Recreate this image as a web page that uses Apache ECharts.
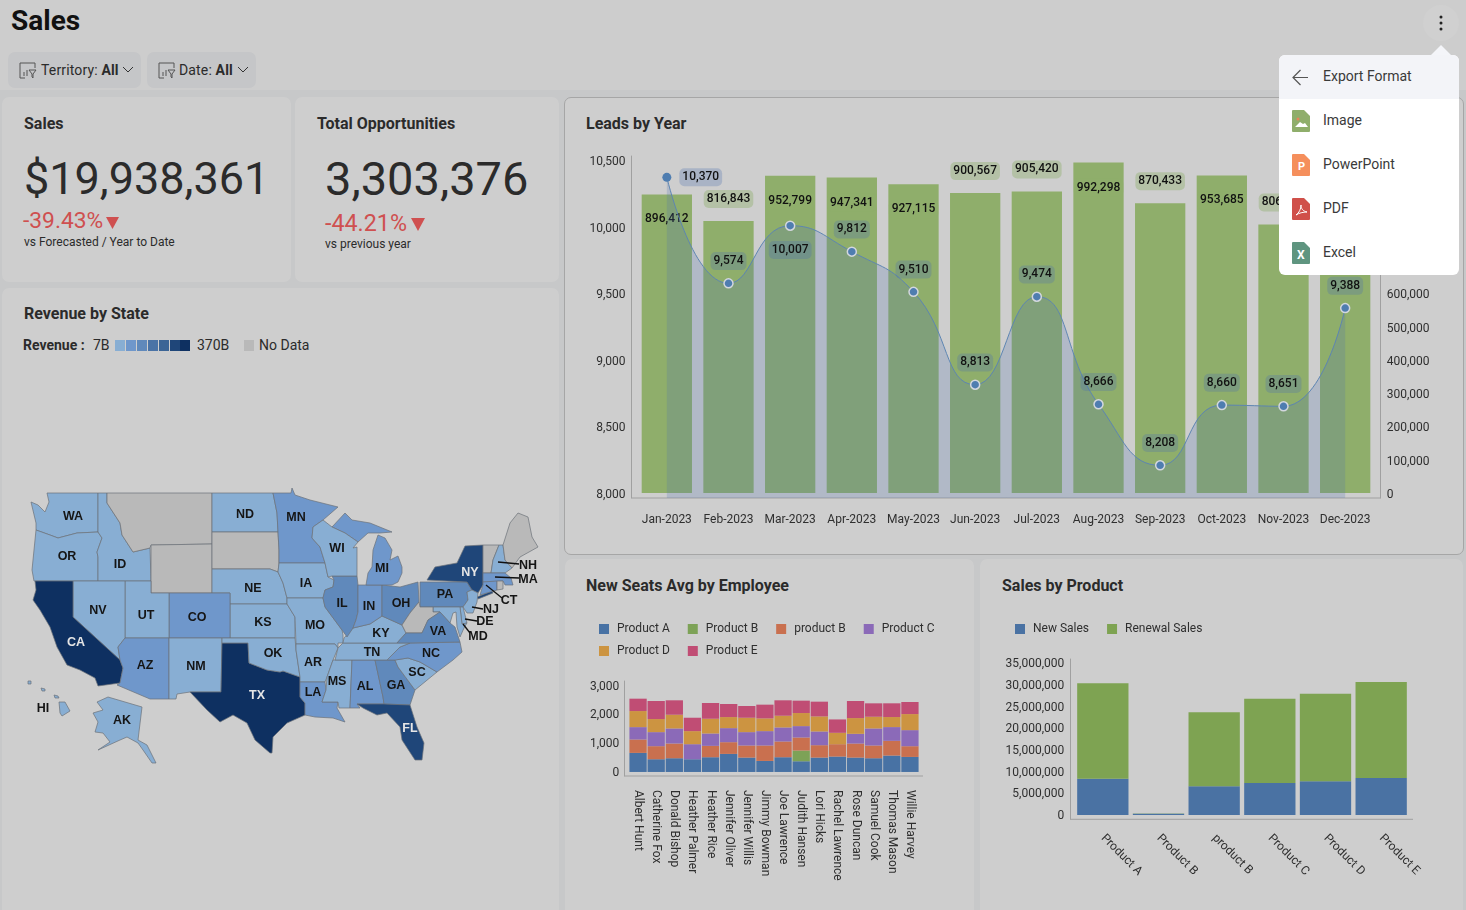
<!DOCTYPE html>
<html>
<head>
<meta charset="utf-8">
<title>Sales</title>
<script src="https://cdn.jsdelivr.net/npm/echarts@6/dist/echarts.min.js"></script>
<style>
	html, body { margin: 0; padding: 0; width: 1466px; height: 910px; overflow: hidden; background: #cdcdcd; font-family: Roboto, sans-serif; color: #2b2b2b; }
	.abs { position: absolute; white-space: nowrap; }
	.gutter { position: absolute; left: 0; top: 90px; width: 1466px; height: 820px; background: #c7c8c9; }
	.card { position: absolute; background: #cecece; border-radius: 7px; }
	.title { font-size: 16px; font-weight: 700; color: #2b2b2b; }
	.filter { position: absolute; top: 52px; height: 36px; background: #c5c6c8; border-radius: 7px; font-size: 14px; line-height: 36px; letter-spacing: 0.15px; }
	.red { color: #cf5050; }
	.menu { position: absolute; left: 1279px; top: 55px; width: 180px; height: 220px; background: #fff; border-radius: 6px; font-size: 14px; color: #3a3a3a; }
	.menu .row { position: absolute; left: 44px; line-height: 20px; }
	.swatch { position: absolute; top: 340px; height: 11px; }
</style>
</head>
<body>
<div class="gutter"></div>
<div class="card" style="left:2px;top:97px;width:289px;height:185px"></div>
<div class="card" style="left:295px;top:97px;width:264px;height:185px"></div>
<div class="card" style="left:2px;top:288px;width:557px;height:630px"></div>
<div class="card" style="left:564px;top:97px;width:898px;height:456px;border:1px solid #a6a6a6"></div>
<div class="card" style="left:565px;top:559px;width:409px;height:360px"></div>
<div class="card" style="left:980px;top:559px;width:483px;height:360px"></div>

<div class="abs" style="left:11px;top:4px;font-size:28px;font-weight:700;color:#111">Sales</div>

<div class="filter" style="left:8px;width:133px">
	<svg class="abs" style="left:11px;top:10px" width="18" height="17" fill="none" stroke="#555"><path d="M6 16H1V1h15v5M5 14V10M8 14V8M10 8h7l-3 4v4l-1-1v-3z"/></svg>
	<span class="abs" style="left:33px">Territory: <b style="font-weight:700">All</b></span>
	<svg class="abs" style="left:114px;top:14px" width="12" height="8" fill="none" stroke="#333"><path d="M1 1l5 5 5-5"/></svg>
</div>
<div class="filter" style="left:147px;width:109px">
	<svg class="abs" style="left:11px;top:10px" width="18" height="17" fill="none" stroke="#555"><path d="M6 16H1V1h15v5M5 14V10M8 14V8M10 8h7l-3 4v4l-1-1v-3z"/></svg>
	<span class="abs" style="left:32px">Date: <b style="font-weight:700">All</b></span>
	<svg class="abs" style="left:90px;top:14px" width="12" height="8" fill="none" stroke="#333"><path d="M1 1l5 5 5-5"/></svg>
</div>

<div class="abs title" style="left:24px;top:114px">Sales</div>
<div class="abs" style="left:24px;top:152px;font-size:45px">$19,938,361</div>
<div class="abs red" style="left:23px;top:207px;font-size:22.800px">-39.43%</div>
<svg class="abs" style="left:106px;top:217px" width="14" height="12"><path d="M0 0h13l-6.500 12z" fill="#cf5050"/></svg>
<div class="abs" style="left:24px;top:235px;font-size:12px">vs Forecasted / Year to Date</div>

<div class="abs title" style="left:317px;top:114px">Total Opportunities</div>
<div class="abs" style="left:325px;top:151px;font-size:47px">3,303,376</div>
<div class="abs red" style="left:325px;top:209px;font-size:23.300px">-44.21%</div>
<svg class="abs" style="left:411px;top:218px" width="14" height="13"><path d="M0 0h14l-7 13z" fill="#cf5050"/></svg>
<div class="abs" style="left:325px;top:237px;font-size:12px">vs previous year</div>

<div class="abs title" style="left:24px;top:304px">Revenue by State</div>
<div class="abs" style="left:23px;top:337px;font-size:14px;font-weight:700">Revenue :</div>
<div class="abs" style="left:93px;top:337px;font-size:14px">7B</div>
<div id="mapLegend"></div>
<div class="abs" style="left:197px;top:337px;font-size:14px">370B</div>
<div class="swatch" style="left:244px;width:10px;background:#b9b9b9"></div>
<div class="abs" style="left:259px;top:337px;font-size:14px">No Data</div>

<div class="abs title" style="left:586px;top:114px">Leads by Year</div>
<div class="abs title" style="left:586px;top:576px">New Seats Avg by Employee</div>
<div class="abs title" style="left:1002px;top:576px">Sales by Product</div>

<div id="mapChart" class="abs" style="left:2px;top:288px;width:557px;height:622px"></div>
<div id="leadsChart" class="abs" style="left:565px;top:97px;width:898px;height:457px"></div>
<div id="seatsChart" class="abs" style="left:565px;top:559px;width:409px;height:351px"></div>
<div id="productChart" class="abs" style="left:980px;top:559px;width:483px;height:351px"></div>

<div class="abs" style="left:1423px;top:5px;width:36px;height:36px;border-radius:18px;background:#d0d0d0"></div>
<svg class="abs" style="left:1438px;top:15px" width="6" height="16"><circle cx="3" cy="2" r="1.5" fill="#222"/><circle cx="3" cy="8" r="1.5" fill="#222"/><circle cx="3" cy="14" r="1.5" fill="#222"/></svg>
<svg class="abs" style="left:1431px;top:45px" width="20" height="11"><path d="M0 10L10 0l10 10z" fill="#f4f5f9"/></svg>
<div class="menu">
	<div class="abs" style="left:0;top:0;width:180px;height:44px;background:#f3f4f8;border-radius:6px 6px 0 0"></div>
	<svg class="abs" style="left:13px;top:14px" width="17" height="17" fill="none" stroke="#555" stroke-width="1.2"><path d="M16 8.500H1M8.500 1L1 8.500 8.500 16"/></svg>
	<div class="row" style="top:11px">Export Format</div>
	<svg class="abs" style="left:13px;top:55px" width="18" height="22"><path d="M0 1q0-1 1-1h11l6 6v15q0 1-1 1H1q-1 0-1-1z" fill="#8fae6b"/><path d="M3 17l5-5 3 2 2-1 3 4z" fill="#fff"/><circle cx="6" cy="9" r="1.500" fill="#e8845a"/></svg>
	<div class="row" style="top:55px">Image</div>
	<svg class="abs" style="left:13px;top:99px" width="18" height="22"><path d="M0 1q0-1 1-1h11l6 6v15q0 1-1 1H1q-1 0-1-1z" fill="#f58f5c"/><text x="6" y="16" font-size="11" font-weight="700" fill="#fff">P</text></svg>
	<div class="row" style="top:99px">PowerPoint</div>
	<svg class="abs" style="left:13px;top:143px" width="18" height="22"><path d="M0 1q0-1 1-1h11l6 6v15q0 1-1 1H1q-1 0-1-1z" fill="#d0504a"/><path d="M4 17c3-2 5-6 5-10 0 4 2 6 6 7-4 0-8 1-11 3z" fill="none" stroke="#fff"/></svg>
	<div class="row" style="top:143px">PDF</div>
	<svg class="abs" style="left:13px;top:187px" width="18" height="22"><path d="M0 1q0-1 1-1h11l6 6v15q0 1-1 1H1q-1 0-1-1z" fill="#5f9580"/><text x="5" y="17" font-size="12" font-weight="700" fill="#fff">X</text></svg>
	<div class="row" style="top:187px">Excel</div>
</div>

<script>
const FONT = 'Roboto, sans-serif'
const TEXT_COLOR = '#2f2f2f'
const AXIS_COLOR = '#a0a0a0'

// Leads by Year
const leadMonths = ['Jan-2023', 'Feb-2023', 'Mar-2023', 'Apr-2023', 'May-2023', 'Jun-2023', 'Jul-2023', 'Aug-2023', 'Sep-2023', 'Oct-2023', 'Nov-2023', 'Dec-2023']
const leadCounts = [896412, 816843, 952799, 947341, 927115, 900567, 905420, 992298, 870433, 953685, 806300, 832000]
const leadValues = [10370, 9574, 10007, 9812, 9510, 8813, 9474, 8666, 8208, 8660, 8651, 9388]
const leftTicks = [8000, 8500, 9000, 9500, 10000, 10500]
const rightTicks = [0, 100000, 200000, 300000, 400000, 500000, 600000, 700000, 800000, 900000, 1000000]
// months whose bar label sits inside the bar
const insideBarMonths = ['Jan-2023', 'Mar-2023', 'Apr-2023', 'May-2023', 'Aug-2023', 'Oct-2023']

// New Seats Avg by Employee
const employees = ['Albert Hunt', 'Catherine Fox', 'Donald Bishop', 'Heather Palmer', 'Heather Rice', 'Jennifer Oliver', 'Jennifer Willis', 'Jimmy Bowman', 'Joe Lawrence', 'Judith Hansen', 'Lori Hicks', 'Rachel Lawrence', 'Rose Duncan', 'Samuel Cook', 'Thomas Mason', 'Willie Harvey']
const seatsProductA = [663, 442, 477, 442, 512, 628, 500, 384, 512, 372, 500, 535, 500, 477, 570, 523]
const seatsProductB = [0, 0, 0, 0, 0, 0, 0, 0, 0, 372, 0, 0, 0, 0, 0, 0]
const seatsProductB2 = [465, 454, 512, 0, 395, 407, 419, 535, 547, 454, 430, 430, 488, 442, 512, 372]
const seatsProductC = [430, 488, 523, 523, 430, 488, 465, 500, 488, 395, 477, 0, 337, 593, 477, 558]
const seatsProductD = [558, 454, 477, 454, 512, 384, 500, 442, 407, 454, 523, 395, 547, 407, 349, 558]
const seatsProductE = [430, 628, 500, 465, 547, 454, 407, 477, 535, 430, 512, 465, 593, 465, 477, 419]
const seatTicks = [0, 1000, 2000, 3000]

// Sales by Product
const products = ['Product A', 'Product B', 'product B', 'Product C', 'Product D', 'Product E']
const newSales = [8380000, 300000, 6600000, 7400000, 7770000, 8540000]
const renewalSales = [22000000, 50000, 17100000, 19450000, 20200000, 22160000]
const productTicks = [0, 5000000, 10000000, 15000000, 20000000, 25000000, 30000000, 35000000]

// Revenue by State, billions
const stateRevenue = {
	WA: 38, OR: 31, ID: 12, NV: 24, UT: 22, NM: 15, ND: 8, NE: 14, KS: 20, OK: 33, MO: 41, AR: 17, IA: 26, WI: 44,
	KY: 30, TN: 52, MS: 11, SC: 35, NH: 9, NJ: 54, MD: 46, DE: 7, AK: 7, HI: 10,
	CO: 76, AZ: 88, MN: 84, MI: 96, IN: 72, LA: 62, AL: 64, NC: 102, MA: 90, CT: 60,
	IL: 150, OH: 128, PA: 139, GA: 118, VA: 113,
	NY: 281, FL: 302, CA: 370, TX: 352
}
const revenueColors = ['#88aed3', '#6f97cb', '#6089bb', '#4a73a6', '#3c6596', '#1f4679', '#0e3061']

// base map outlines, traced state by state
const stateShapes = {
	WA: [[[47,493],[98,493],[98,532],[77,533],[58,538],[50,535],[36,530],[36,523],[31,502],[38,505],[45,512],[49,502]]],
	OR: [[[36,530],[50,535],[58,538],[77,533],[98,532],[102,538],[97,552],[98,557],[98,581],[34,581],[32,570]]],
	ID: [[[98,493],[107,493],[107,503],[120,523],[122,535],[133,552],[150,548],[151,581],[98,581],[98,557],[97,552],[102,538],[98,532]]],
	MT: [[[107,493],[212,493],[212,544],[151,545],[150,548],[133,552],[122,535],[120,523],[107,503]]],
	WY: [[[151,545],[212,544],[212,593],[151,593]]],
	ND: [[[212,493],[273,493],[277,513],[278,532],[212,532]]],
	SD: [[[212,532],[278,532],[279,550],[279,563],[278,572],[270,569],[212,569]]],
	NE: [[[212,569],[270,569],[278,572],[283,583],[287,598],[287,604],[230,604],[230,593],[212,593]]],
	KS: [[[230,604],[287,604],[295,617],[295,638],[230,638]]],
	CO: [[[169,593],[230,593],[230,638],[169,638]]],
	UT: [[[125,581],[151,581],[151,593],[169,593],[169,638],[125,638]]],
	NV: [[[73,581],[125,581],[125,638],[118,647],[120,660],[73,617]]],
	CA: [[[35,581],[73,581],[73,617],[120,660],[123,668],[120,683],[98,686],[95,678],[80,670],[67,665],[57,647],[50,627],[40,610],[33,600],[36,590]]],
	AZ: [[[125,638],[169,638],[169,699],[150,699],[117,685],[120,683],[123,668],[120,660],[118,647]]],
	NM: [[[169,638],[222,638],[221,692],[190,692],[177,694],[176,699],[169,699]]],
	TX: [[[222,643],[248,643],[249,663],[267,670],[280,672],[283,671],[300,677],[300,697],[305,703],[305,715],[287,723],[273,737],[272,753],[270,753],[255,740],[247,723],[233,715],[220,722],[207,710],[190,692],[221,692]]],
	OK: [[[222,638],[295,638],[296,650],[300,677],[283,671],[280,672],[267,670],[249,663],[248,643],[222,643]]],
	MN: [[[273,493],[291,493],[292,488],[295,495],[310,500],[338,507],[323,520],[313,527],[312,538],[320,547],[325,563],[279,563],[279,550],[278,532],[277,513]]],
	IA: [[[279,563],[325,563],[328,577],[334,580],[333,587],[325,590],[323,598],[287,598],[283,583],[278,572]]],
	MO: [[[287,598],[323,598],[325,607],[342,630],[343,635],[343,643],[338,643],[338,648],[335,644],[296,644],[295,617],[287,604]]],
	AR: [[[296,644],[335,644],[338,648],[333,660],[327,677],[325,682],[300,682],[300,677],[296,650]]],
	LA: [[[300,682],[325,682],[326,690],[322,702],[338,702],[337,708],[345,722],[333,718],[315,717],[305,715],[305,703],[300,697]]],
	MS: [[[333,660],[352,660],[350,708],[339,708],[338,702],[322,702],[326,690],[327,677]]],
	AL: [[[352,660],[375,660],[383,697],[384,704],[357,704],[360,708],[350,708]]],
	GA: [[[375,660],[395,660],[398,667],[415,690],[410,705],[384,704],[383,697]]],
	FL: [[[357,704],[384,704],[410,705],[417,727],[424,743],[422,760],[415,760],[402,740],[400,727],[387,713],[377,715],[363,708]]],
	SC: [[[395,660],[408,658],[420,662],[437,672],[415,690],[398,667]]],
	NC: [[[387,660],[400,647],[410,643],[460,642],[462,652],[453,660],[437,672],[420,662],[408,658],[395,660]]],
	TN: [[[335,660],[338,648],[343,643],[397,643],[410,643],[400,647],[387,660],[352,660]]],
	KY: [[[343,643],[344,638],[353,628],[370,624],[382,616],[402,625],[406,633],[397,643]]],
	IL: [[[332,576],[357,576],[358,585],[358,612],[356,620],[353,628],[347,637],[342,630],[325,607],[323,598],[325,590],[333,587],[334,580]]],
	IN: [[[358,585],[382,585],[382,616],[370,624],[353,628],[356,620],[358,612]]],
	OH: [[[382,585],[400,587],[418,582],[419,602],[410,613],[402,625],[382,616]]],
	MI: [
		[[366,585],[368,573],[372,567],[373,550],[378,535],[385,538],[392,550],[390,560],[398,556],[402,567],[402,573],[398,582],[392,585]],
		[[332,527],[345,513],[352,520],[370,523],[392,532],[380,533],[368,533],[358,542],[345,533]]
	],
	WI: [[[313,527],[323,520],[332,527],[345,533],[358,542],[353,548],[357,547],[357,576],[332,576],[328,577],[325,563],[320,547],[312,538]]],
	PA: [[[420,582],[467,582],[472,590],[467,592],[468,600],[463,607],[420,607]]],
	NY: [
		[[427,580],[435,567],[457,563],[465,546],[483,545],[483,573],[483,585],[478,593],[472,590],[467,582]],
		[[477,597],[492,591],[493,593],[478,599]]
	],
	VT: [[[483,545],[499,545],[493,560],[491,573],[483,573]]],
	NH: [[[491,573],[493,560],[499,545],[503,545],[505,560],[512,568],[505,573]]],
	ME: [[[503,545],[510,523],[518,513],[528,517],[532,537],[538,547],[520,557],[512,568],[505,560]]],
	MA: [[[483,573],[505,573],[511,578],[513,585],[505,585],[503,581],[483,582]]],
	CT: [[[483,582],[497,581],[497,590],[480,595],[483,585]]],
	RI: [[[497,581],[503,581],[503,589],[497,590]]],
	NJ: [[[467,592],[472,590],[478,593],[477,602],[473,613],[467,613],[463,607],[468,600]]],
	DE: [[[460,607],[463,607],[467,623],[462,624]]],
	MD: [[[433,607],[460,607],[462,624],[467,623],[464,628],[460,637],[457,627],[456,612],[453,613],[450,623],[440,612],[433,612]]],
	WV: [[[419,602],[420,607],[433,607],[433,612],[440,612],[428,620],[422,633],[406,633],[402,625],[410,613]]],
	VA: [[[397,643],[406,633],[422,633],[428,620],[440,612],[450,623],[455,627],[460,642],[410,643]]],
	AK: [[[97,702],[108,697],[142,707],[138,740],[147,745],[156,763],[152,763],[143,750],[138,743],[127,737],[120,740],[98,750],[110,742],[103,733],[95,732],[98,722],[93,713],[103,710]]],
	HI: [
		[[59,702],[65,702],[70,711],[62,716],[60,713]],
		[[54,695],[58,696],[59,698],[55,698]],
		[[41,688],[45,689],[45,691],[42,691]],
		[[28,681],[31,681],[31,684],[28,684]]
	]
}
// where each state's name is written
const stateLabelAt = {
	WA: [73,516], OR: [67,556], ID: [120,564], NV: [98,610], CA: [76,642], UT: [146,615], CO: [197,617], AZ: [145,665],
	NM: [196,666], TX: [257,695], ND: [245,514], NE: [253,588], KS: [263,622], OK: [273,653], MN: [296,517], IA: [306,583],
	MO: [315,625], AR: [313,662], LA: [313,692], WI: [337,548], IL: [342,603], IN: [369,606], MI: [382,568], OH: [401,603],
	KY: [381,633], TN: [372,652], MS: [337,681], AL: [365,686], GA: [396,685], FL: [410,728], SC: [417,672], NC: [431,653],
	VA: [438,631], PA: [445,594], NY: [470,572], NH: [528,565], MA: [528,579], CT: [509,600], NJ: [491,609], DE: [485,621],
	MD: [478,636], AK: [122,720], HI: [43,708]
}
// leader lines of the small north-eastern states
const leaderLines = [
	[[498,562],[519,564]], [[495,577],[519,578]], [[486,585],[502,598]],
	[[472,607],[483,609]], [[465,619],[477,621]], [[463,624],[470,633]]
]

function thousands(v) {
	return Number(v).toLocaleString('en-US')
}

//y axis labels at fixed values, pushed down a little with a rich text box
function axisText(ticks, margin, pushDown) {
	return {
		customValues: ticks,
		margin: margin,
		formatter: v => '{t|' + thousands(v) + '}',
		rich: { t: { fontFamily: FONT, fontSize: 12, color: TEXT_COLOR, padding: [pushDown, 0, 0, 0] } }
	}
}

//Leads by Year: bars on the right axis, smooth area on the left axis
function drawLeads() {
	const myCharts = echarts.init(document.getElementById('leadsChart'))

	const pill = { fontFamily: FONT, fontSize: 12, fontWeight: 500, color: '#111', padding: [3, 3], borderRadius: 5 }

	let barData = []
	for (let i in leadMonths) {
		const inside = insideBarMonths.includes(leadMonths[i])
		barData.push({
			value: leadCounts[i],
			label: { position: inside ? 'insideTop' : 'top', distance: inside ? 16 : 13 }
		})
	}

	let lineData = []
	for (let i in leadMonths) {
		let position = 'top'
		if (i == 0) position = 'right'
		if (i == 2) position = 'bottom'
		let item = { value: leadValues[i], label: { position: position } }
		if (i == 0) item.itemStyle = { borderWidth: 0 }
		if (i == 2) item.label.distance = 10
		lineData.push(item)
	}

	let option = {
		animation: false,
		grid: { left: 71, right: 87, top: 59, height: 342 },
		graphic: [{
			type: 'line', silent: true, z: 0,
			shape: { x1: 66.5, y1: 401, x2: 815.7, y2: 401 },
			style: { stroke: AXIS_COLOR, lineWidth: 1 }
		}],
		xAxis: {
			type: 'category',
			data: leadMonths,
			axisLine: { show: false },
			axisTick: { show: false },
			axisLabel: { fontFamily: FONT, fontSize: 12, color: TEXT_COLOR, margin: 16, interval: 0 }
		},
		yAxis: [{
			type: 'value', min: 7962.5, max: 10530, offset: 4.5,
			splitLine: { show: false },
			axisTick: { show: false },
			axisLine: { show: true, lineStyle: { color: AXIS_COLOR } },
			axisLabel: axisText(leftTicks, 6, 4)
		}, {
			type: 'value', min: -15000, max: 1012000, offset: 4.7, position: 'right',
			splitLine: { show: false },
			axisTick: { show: false },
			axisLine: { show: true, lineStyle: { color: AXIS_COLOR } },
			axisLabel: axisText(rightTicks, 6, 4)
		}],
		series: [{
			type: 'bar',
			yAxisIndex: 1,
			z: 2,
			barWidth: 50.3,
			itemStyle: { color: '#8fae6b' },
			label: Object.assign({}, pill, { show: true, formatter: p => thousands(p.value), backgroundColor: 'rgba(143,174,107,0.4)' }),
			data: barData
		}, {
			type: 'line',
			yAxisIndex: 0,
			z: 3,
			smooth: 0.5,
			symbol: 'circle',
			symbolSize: 9,
			showAllSymbol: true,
			lineStyle: { color: '#5d85b2', width: 1 },
			itemStyle: { color: '#4f7db0', borderColor: '#d3d7de', borderWidth: 1.5 },
			areaStyle: { color: 'rgba(75,112,175,0.32)', origin: 'start' },
			label: Object.assign({}, pill, { show: true, distance: 8, formatter: p => thousands(p.value), backgroundColor: 'rgba(75,112,175,0.28)' }),
			data: lineData
		}]
	}

	myCharts.setOption(option)
}

//New Seats Avg by Employee: stacked bars
function drawSeats() {
	const myCharts = echarts.init(document.getElementById('seatsChart'))

	const names = ['Product A', 'Product B', 'product B', 'Product C', 'Product D', 'Product E']
	const colors = ['#4872a4', '#7da257', '#c9704f', '#8b6ab8', '#cc9441', '#c04d74']
	const values = [seatsProductA, seatsProductB, seatsProductB2, seatsProductC, seatsProductD, seatsProductE]

	let seriesList = []
	for (let i in names) {
		seriesList.push({
			name: names[i],
			type: 'bar',
			stack: 'seats',
			barWidth: 17.3,
			itemStyle: { color: colors[i] },
			data: values[i]
		})
	}

	const legendBase = {
		icon: 'rect', itemWidth: 10, itemHeight: 10, itemGap: 18,
		textStyle: { fontFamily: FONT, fontSize: 12, color: TEXT_COLOR, padding: [0, 0, 0, 3] }
	}

	let option = {
		animation: false,
		grid: { left: 64, right: 55, top: 122, height: 95 },
		graphic: [{
			type: 'line', silent: true, z: 0,
			shape: { x1: 59.3, y1: 217, x2: 358, y2: 217 },
			style: { stroke: AXIS_COLOR, lineWidth: 1 }
		}],
		legend: [
			Object.assign({}, legendBase, { left: 29, top: 59, data: names.slice(0, 4) }),
			Object.assign({}, legendBase, { left: 29, top: 81, data: names.slice(4) })
		],
		xAxis: {
			type: 'category',
			data: employees,
			axisLine: { show: false },
			axisTick: { show: false },
			axisLabel: { fontFamily: FONT, fontSize: 12, color: TEXT_COLOR, rotate: -90, margin: 14, interval: 0 }
		},
		yAxis: {
			type: 'value', min: -140, max: 3160, offset: 4.7,
			splitLine: { show: false },
			axisTick: { show: false },
			axisLine: { show: true, lineStyle: { color: AXIS_COLOR } },
			axisLabel: axisText(seatTicks, 5, 2)
		},
		series: seriesList
	}

	myCharts.setOption(option)
}

//Sales by Product: stacked bars
function drawProducts() {
	const myCharts = echarts.init(document.getElementById('productChart'))

	let option = {
		animation: false,
		grid: { left: 95, right: 54, top: 100, height: 160.3 },
		graphic: [{
			type: 'line', silent: true, z: 0,
			shape: { x1: 90.3, y1: 260.3, x2: 433, y2: 260.3 },
			style: { stroke: AXIS_COLOR, lineWidth: 1 }
		}],
		legend: {
			left: 30, top: 59,
			icon: 'rect', itemWidth: 10, itemHeight: 10, itemGap: 18,
			textStyle: { fontFamily: FONT, fontSize: 12, color: TEXT_COLOR, padding: [0, 0, 0, 3] },
			data: ['New Sales', 'Renewal Sales']
		},
		xAxis: {
			type: 'category',
			data: products,
			axisLine: { show: false },
			axisTick: { show: false },
			axisLabel: { fontFamily: FONT, fontSize: 12, color: TEXT_COLOR, rotate: -45, margin: 17, interval: 0 }
		},
		yAxis: {
			type: 'value', min: -1000000, max: 36000000, offset: 4.7,
			splitLine: { show: false },
			axisTick: { show: false },
			axisLine: { show: true, lineStyle: { color: AXIS_COLOR } },
			axisLabel: axisText(productTicks, 6, 2)
		},
		series: [
			{ name: 'New Sales', type: 'bar', stack: 'sales', barWidth: 51.3, itemStyle: { color: '#4a72a3' }, data: newSales },
			{ name: 'Renewal Sales', type: 'bar', stack: 'sales', barWidth: 51.3, itemStyle: { color: '#7ea352' }, data: renewalSales }
		]
	}

	myCharts.setOption(option)
}

//Revenue by State: choropleth on the traced outlines
function drawMap() {
	const myCharts = echarts.init(document.getElementById('mapChart'))

	let features = []
	let minX = Infinity, maxX = -Infinity, minY = Infinity, maxY = -Infinity
	for (let name in stateShapes) {
		let polygons = []
		for (let ring of stateShapes[name]) {
			for (let p of ring) {
				minX = Math.min(minX, p[0]); maxX = Math.max(maxX, p[0])
				minY = Math.min(minY, p[1]); maxY = Math.max(maxY, p[1])
			}
			//the geo coordinate system has latitude going up
			polygons.push([ring.map(p => [p[0], -p[1]])])
		}
		let at = stateLabelAt[name]
		features.push({
			type: 'Feature',
			properties: { name: name, cp: at ? [at[0], -(at[1] + 1)] : undefined },
			geometry: { type: 'MultiPolygon', coordinates: polygons }
		})
	}
	echarts.registerMap('usStates', { type: 'FeatureCollection', features: features })

	let mapData = []
	for (let name in stateShapes) {
		if (name in stateRevenue) {
			let item = { name: name, value: stateRevenue[name] }
			if (stateRevenue[name] > 266) item.label = { color: '#e6e6e6' }
			mapData.push(item)
		} else {
			//no data: grey and unnamed
			mapData.push({ name: name, label: { show: false } })
		}
	}

	let lines = []
	for (let l of leaderLines) {
		lines.push({
			type: 'line', silent: true, z: 20,
			shape: { x1: l[0][0] - 2, y1: l[0][1] - 288, x2: l[1][0] - 2, y2: l[1][1] - 288 },
			style: { stroke: '#111', lineWidth: 1.3 }
		})
	}

	let option = {
		animation: false,
		graphic: lines,
		visualMap: {
			type: 'piecewise', show: false, min: 7, max: 370, splitNumber: 7, seriesIndex: 0,
			inRange: { color: revenueColors }
		},
		series: [{
			type: 'map',
			map: 'usStates',
			aspectScale: 1,
			left: minX - 2,
			top: minY - 288,
			width: maxX - minX,
			height: maxY - minY,
			selectedMode: false,
			silent: true,
			itemStyle: { areaColor: '#b9b9b9', borderColor: '#6b7178', borderWidth: 0.7 },
			label: { show: true, fontFamily: '"Liberation Sans", Arial, sans-serif', fontSize: 12.5, fontWeight: 'bold', color: '#151515' },
			data: mapData
		}]
	}

	myCharts.setOption(option)
}

//colour steps beside the map legend
function drawMapLegend() {
	const box = document.getElementById('mapLegend')
	for (let i in revenueColors) {
		const div = document.createElement('div')
		div.className = 'swatch'
		div.style.left = (115 + i * 10.9) + 'px'
		div.style.width = '10px'
		div.style.background = revenueColors[i]
		box.appendChild(div)
	}
}

drawLeads()
drawSeats()
drawProducts()
drawMap()
drawMapLegend()
</script>
</body>
</html>
